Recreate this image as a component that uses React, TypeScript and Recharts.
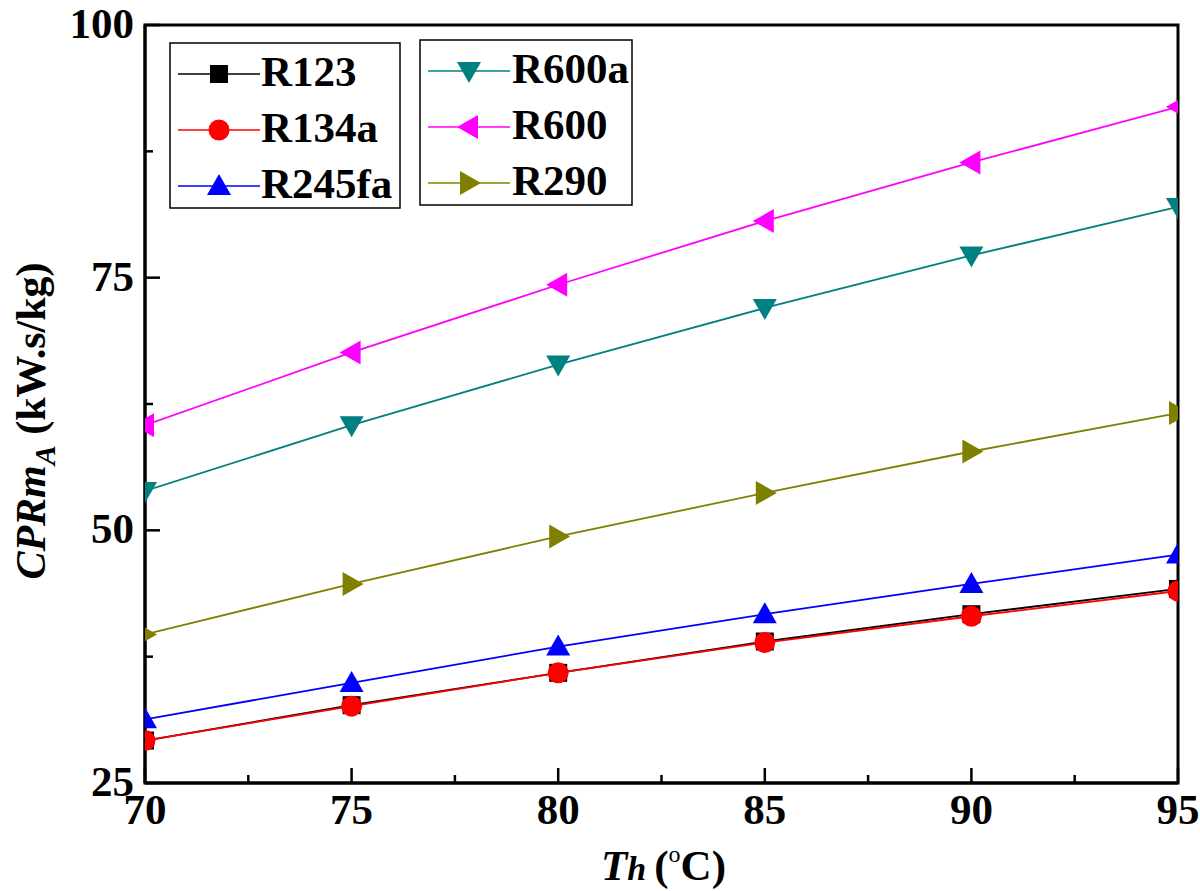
import React from 'react';
import { LineChart, Line, XAxis, YAxis, ReferenceArea, Label } from 'recharts';

const temps = [70, 75, 80, 85, 90, 95];
const r123 = [29.2, 32.7, 35.9, 39.0, 41.7, 44.2];
const r134a = [29.2, 32.6, 35.9, 38.9, 41.5, 44.0];
const r245fa = [31.3, 34.9, 38.5, 41.7, 44.7, 47.6];
const r600a = [53.9, 60.4, 66.4, 72.0, 77.2, 82.0];
const r600 = [60.4, 67.6, 74.3, 80.6, 86.4, 91.9];
const r290 = [39.7, 44.7, 49.4, 53.7, 57.8, 61.6];

const xTicks = [70, 72.5, 75, 77.5, 80, 82.5, 85, 87.5, 90, 92.5, 95];
const xMajor = [70, 75, 80, 85, 90, 95];
const yTicks = [25, 37.5, 50, 62.5, 75, 87.5, 100];
const yMajor = [25, 50, 75, 100];

const series = [
  { key: 'R123', values: r123, color: '#000000', shape: 'square' },
  { key: 'R134a', values: r134a, color: '#ff0000', shape: 'circle' },
  { key: 'R245fa', values: r245fa, color: '#0000ff', shape: 'up' },
  { key: 'R600a', values: r600a, color: '#008080', shape: 'down' },
  { key: 'R600', values: r600, color: '#ff00ff', shape: 'left' },
  { key: 'R290', values: r290, color: '#808000', shape: 'right' },
];

const data = temps.map((t, i) => {
  const row: any = { t };
  series.forEach((s) => { row[s.key] = s.values[i]; });
  return row;
});

const FONT = "'Liberation Serif', 'DejaVu Serif', serif";
const txt: React.CSSProperties = { fontFamily: FONT, fontWeight: 700 };

function Marker({ cx, cy, shape, color }: any) {
  if (cx == null || cy == null) return null;
  switch (shape) {
    case 'square':
      return <rect x={cx - 9} y={cy - 9} width={18} height={18} fill={color} />;
    case 'circle':
      return <circle cx={cx} cy={cy} r={10.5} fill={color} />;
    case 'up':
      return <polygon points={`${cx},${cy - 12} ${cx + 12},${cy + 9} ${cx - 12},${cy + 9}`} fill={color} />;
    case 'down':
      return <polygon points={`${cx},${cy + 12} ${cx + 12},${cy - 9} ${cx - 12},${cy - 9}`} fill={color} />;
    case 'left':
      return <polygon points={`${cx - 12},${cy} ${cx + 9},${cy - 12} ${cx + 9},${cy + 12}`} fill={color} />;
    case 'right':
      return <polygon points={`${cx + 12},${cy} ${cx - 9},${cy - 12} ${cx - 9},${cy + 12}`} fill={color} />;
    default:
      return null;
  }
}

function XTick({ x, y, payload }: any) {
  const major = xMajor.includes(payload.value);
  return (
    <g>
      <line x1={x} x2={x} y1={y} y2={y - (major ? 15 : 8)} stroke="#000" strokeWidth={2.5} />
      {major && (
        <text x={x} y={y + 41} textAnchor="middle" style={{ ...txt, fontSize: 43 }} fill="#000">
          {payload.value}
        </text>
      )}
    </g>
  );
}

function YTick({ x, y, payload }: any) {
  const major = yMajor.includes(payload.value);
  return (
    <g>
      <line x1={x} x2={x + (major ? 15 : 8)} y1={y} y2={y} stroke="#000" strokeWidth={2.5} />
      {major && (
        <text x={x - 11} y={y + 13} textAnchor="end" style={{ ...txt, fontSize: 43 }} fill="#000">
          {payload.value}
        </text>
      )}
    </g>
  );
}

function XTitle({ viewBox }: any) {
  const cx = viewBox.x + viewBox.width / 2 + 2;
  return (
    <text x={cx} y={880} textAnchor="middle" style={{ ...txt, fontSize: 43 }} fill="#000">
      <tspan fontStyle="italic">T</tspan>
      <tspan fontStyle="italic" style={{ fontSize: 34 }}>h</tspan>
      <tspan dx={8}>(</tspan>
      <tspan style={{ fontSize: 24, fontWeight: 400 }} dy={-18}>o</tspan>
      <tspan dy={18}>C)</tspan>
    </text>
  );
}

function YTitle({ viewBox }: any) {
  const cy = viewBox.y + viewBox.height / 2 + 17;
  const cx = 45;
  return (
    <text
      x={cx}
      y={cy}
      transform={`rotate(-90 ${cx} ${cy})`}
      textAnchor="middle"
      style={{ ...txt, fontSize: 42 }}
      fill="#000"
    >
      <tspan fontStyle="italic">CPRm</tspan>
      <tspan fontStyle="italic" style={{ fontSize: 30 }} dy={10}>A</tspan>
      <tspan dy={-10}> (kW.s/kg)</tspan>
    </text>
  );
}

function LegendBoxes() {
  const group1 = series.slice(0, 3);
  const group2 = series.slice(3);
  const rowY = [74, 130, 186];
  const renderGroup = (items: any[], bx: number, by: number, bw: number, bh: number, lx: number, tx: number, yOff: number) => (
    <g>
      <rect x={bx} y={by} width={bw} height={bh} fill="#fff" stroke="#000" strokeWidth={1.5} />
      {items.map((s, i) => {
        const yy = rowY[i] + yOff;
        return (
          <g key={s.key}>
            <line x1={lx} x2={lx + 82} y1={yy} y2={yy} stroke={s.color} strokeWidth={1.5} />
            <Marker cx={lx + 41} cy={yy} shape={s.shape} color={s.color} />
            <text x={tx} y={yy + 12} style={{ ...txt, fontSize: 43 }} fill="#000">
              {s.key}
            </text>
          </g>
        );
      })}
    </g>
  );
  return (
    <svg width={1200} height={260} style={{ position: 'absolute', left: 0, top: 0, pointerEvents: 'none' }}>
      {renderGroup(group1, 170, 43, 230, 165, 178, 261, 0)}
      {renderGroup(group2, 420, 40, 212, 165, 428, 512, -3)}
    </svg>
  );
}

export default function App() {
  return (
    <div style={{ position: 'absolute', left: 0, top: 0, width: 1200, height: 891, background: '#fff' }}>
      <LineChart width={1200} height={891} data={data} margin={{ top: 25, right: 22, bottom: 0, left: 0 }}>
        <XAxis
          dataKey="t"
          type="number"
          domain={[70, 95]}
          ticks={xTicks}
          interval={0}
          allowDataOverflow
          height={108}
          tickSize={0}
          tickMargin={0}
          tick={<XTick />}
          axisLine={{ stroke: '#000', strokeWidth: 3 }}
        >
          <Label content={<XTitle />} />
        </XAxis>
        <YAxis
          type="number"
          domain={[25, 100]}
          ticks={yTicks}
          interval={0}
          allowDataOverflow
          width={145}
          tickSize={0}
          tickMargin={0}
          tick={<YTick />}
          axisLine={{ stroke: '#000', strokeWidth: 3 }}
        >
          <Label content={<YTitle />} />
        </YAxis>
        <ReferenceArea x1={70} x2={95} y1={25} y2={100} fill="none" stroke="#000" strokeWidth={3} ifOverflow="visible" />
        {series.map((s) => (
          <Line
            key={s.key}
            dataKey={s.key}
            stroke={s.color}
            strokeWidth={1.8}
            isAnimationActive={false}
            dot={(p: any) => <Marker key={`${s.key}-${p.index}`} cx={p.cx} cy={p.cy} shape={s.shape} color={s.color} />}
            activeDot={false}
          />
        ))}
      </LineChart>
      <LegendBoxes />
    </div>
  );
}
